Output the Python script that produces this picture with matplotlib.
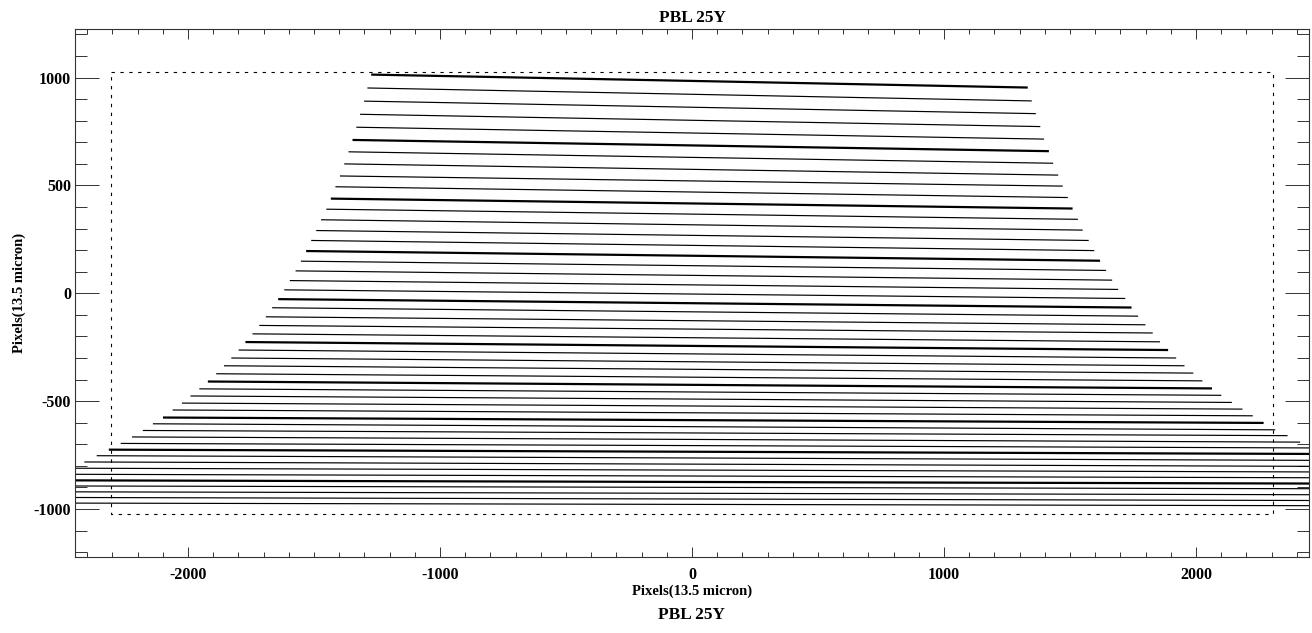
import matplotlib
matplotlib.use("Agg")
import matplotlib.pyplot as plt
from matplotlib.ticker import MultipleLocator

plt.rcParams['font.family'] = ['Liberation Serif', 'DejaVu Serif']
plt.rcParams['font.weight'] = 'bold'
plt.rcParams['axes.unicode_minus'] = False

title = "PBL 25Y"
axis_label = "Pixels(13.5 micron)"

# detector outline (pixels)
det_x = [-2304, 2304, 2304, -2304, -2304]
det_y = [1024, 1024, -1024, -1024, 1024]

# order traces: left end (x, y) and right end (x, y), top to bottom
x_left = [-1273, -1288, -1301, -1317, -1332, -1347, -1363, -1380, -1397, -1415,
          -1433, -1451, -1472, -1491, -1511, -1531, -1552, -1573, -1596, -1618,
          -1642, -1666, -1691, -1717, -1744, -1772, -1799, -1828, -1857, -1888,
          -1921, -1955, -1990, -2024, -2061, -2099, -2139, -2179, -2222, -2267,
          -2314, -2362, -2411, -2460, -2510, -2560, -2610, -2660, -2710, -2760]
y_left = [1014, 952, 891, 830, 770, 711, 656, 600, 544, 494,
          439, 390, 341, 291, 245, 196, 149, 104, 59, 16,
          -27, -67, -109, -149, -188, -226, -263, -300, -336, -373,
          -409, -443, -476, -509, -541, -576, -605, -636, -666, -696,
          -725, -753, -782, -811, -839, -867, -893, -920, -946, -972]
x_right = [1332, 1348, 1364, 1382, 1397, 1416, 1433, 1453, 1471, 1491,
           1510, 1531, 1550, 1574, 1596, 1619, 1643, 1667, 1691, 1719,
           1744, 1770, 1799, 1828, 1857, 1889, 1921, 1954, 1989, 2025,
           2063, 2100, 2142, 2184, 2225, 2268, 2314, 2363, 2413, 2463,
           2515, 2568, 2620, 2673, 2725, 2778, 2830, 2883, 2935, 2988]
y_right = [954, 892, 833, 773, 715, 659, 603, 548, 497, 444,
           393, 343, 293, 245, 198, 151, 106, 61, 18, -24,
           -66, -106, -146, -184, -225, -263, -300, -336, -370, -406,
           -441, -473, -506, -537, -568, -601, -633, -660, -690, -717,
           -745, -775, -803, -829, -856, -883, -907, -935, -962, -986]

fig = plt.figure(figsize=(13.12, 6.33), dpi=100)
ax = fig.add_axes([0.0572, 0.1196, 0.9405, 0.8341])

for i in range(len(x_left)):
    lw = 1.6 if i % 5 == 0 else 0.85
    ax.plot([x_left[i], x_right[i]], [y_left[i], y_right[i]],
            color='black', lw=lw, solid_capstyle='butt')

ax.plot(det_x, det_y, color='black', lw=0.8, linestyle=(0, (3, 5)))

ax.set_xlim(-2448, 2448)
ax.set_ylim(-1224, 1224)

ax.xaxis.set_major_locator(MultipleLocator(1000))
ax.xaxis.set_minor_locator(MultipleLocator(100))
ax.yaxis.set_major_locator(MultipleLocator(500))
ax.yaxis.set_minor_locator(MultipleLocator(100))

ax.tick_params(axis='both', which='both', direction='in', top=True, right=True,
               width=0.7, color='#333333')
ax.tick_params(axis='x', which='major', length=7.2, pad=7)
ax.tick_params(axis='x', which='minor', length=3.4)
ax.tick_params(axis='y', which='major', length=17.3, pad=3)
ax.tick_params(axis='y', which='minor', length=8.6)
ax.tick_params(labelsize=11.5)
for lab in ax.get_xticklabels() + ax.get_yticklabels():
    lab.set_fontweight('bold')

for s in ax.spines.values():
    s.set_linewidth(0.8)
    s.set_color('#333333')

ax.set_title(title, fontsize=12.5, fontweight='bold', pad=5)
ax.set_xlabel(axis_label, fontsize=10.5, fontweight='bold', labelpad=1)
ax.set_ylabel(axis_label, fontsize=10.5, fontweight='bold', labelpad=5)
fig.text(0.5267, 0.016, title, ha='center', va='bottom', fontsize=12.5,
         fontweight='bold')

fig.savefig("out.png", dpi=100)
